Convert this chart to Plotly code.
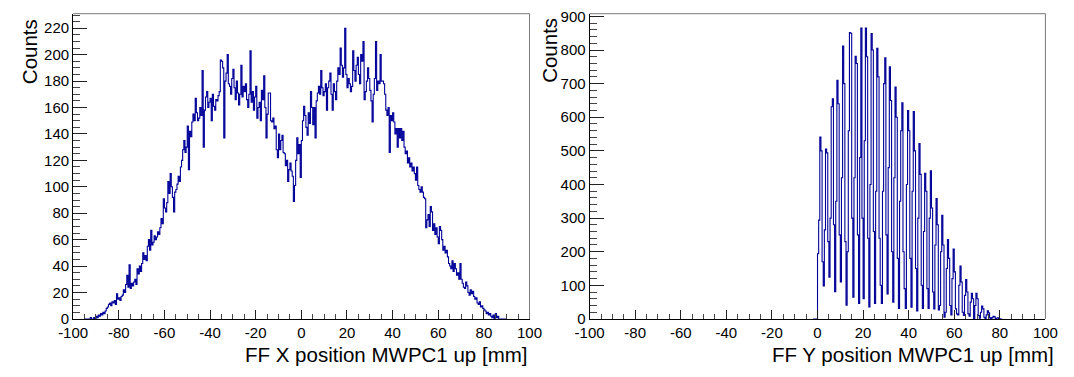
import numpy as np
import plotly.graph_objects as go

# ---------------- data ----------------
# Left histogram: FF X position, 0.5 mm bins starting at -95 mm
x_hist_start = -95.0
x_bin_width = 0.5
x_counts = [
    0, 0, 0, 0, 0, 1, 0, 0, 1, 0, 2, 1, 3, 2, 4, 3, 5, 4, 6, 8,
    9, 11, 12, 10, 13, 12, 14, 11, 19, 15, 16, 14, 17, 18, 22, 20, 26, 33, 24, 41,
    23, 27, 25, 28, 30, 26, 38, 34, 40, 36, 42, 50, 45, 48, 44, 55, 60, 52, 67, 56,
    58, 63, 60, 62, 66, 64, 69, 76, 72, 91, 84, 81, 88, 104, 95, 110, 100, 92, 81, 96,
    98, 102, 108, 104, 115, 120, 128, 135, 126, 130, 146, 113, 142, 138, 149, 155, 150, 167, 156, 150,
    152, 160, 154, 188, 130, 158, 168, 172, 160, 164, 167, 150, 170, 161, 158, 166, 165, 169, 172, 196,
    195, 190, 137, 180, 186, 200, 178, 176, 170, 182, 189, 175, 166, 180, 171, 162, 170, 192, 168, 176,
    172, 178, 166, 160, 170, 203, 164, 172, 158, 168, 176, 152, 160, 164, 150, 173, 166, 184, 160, 137,
    155, 171, 171, 150, 149, 152, 144, 146, 128, 122, 140, 128, 135, 139, 126, 125, 116, 120, 104, 113,
    118, 112, 108, 89, 101, 120, 137, 125, 132, 107, 135, 150, 161, 154, 145, 139, 156, 148, 172, 160,
    147, 160, 137, 165, 171, 176, 170, 188, 175, 169, 172, 178, 158, 175, 180, 186, 170, 158, 178, 172,
    166, 180, 190, 185, 205, 192, 183, 190, 220, 185, 175, 182, 178, 172, 176, 203, 188, 180, 192, 198,
    185, 178, 200, 195, 210, 166, 172, 180, 190, 182, 173, 165, 149, 170, 182, 210, 173, 180, 178, 200,
    180, 180, 178, 170, 158, 154, 160, 126, 154, 150, 156, 149, 140, 144, 130, 144, 137, 144, 135, 142,
    130, 125, 127, 118, 122, 115, 118, 112, 115, 110, 105, 115, 101, 98, 96, 100, 96, 92, 91, 69,
    75, 79, 70, 85, 81, 67, 72, 64, 69, 62, 57, 70, 67, 60, 52, 55, 50, 52, 47, 42,
    40, 38, 44, 36, 42, 38, 33, 35, 30, 42, 30, 27, 24, 23, 28, 25, 20, 18, 22, 19,
    21, 17, 15, 16, 12, 11, 13, 9, 10, 8, 7, 6, 4, 5, 3, 4, 2, 1, 3, 0,
    4, 1, 2, 0, 0, 0, 0, 0, 0, 0,
]

# Right histogram: FF Y position, 0.5 mm bins starting at -2 mm
y_hist_start = -2.0
y_bin_width = 0.5
y_counts = [
    0, 0, 0, 0,
    194, 294, 541, 500, 170,
    98, 265, 505, 494, 230,
    124, 300, 631, 655, 280,
    81, 350, 710, 640, 250,
    110, 420, 812, 700, 230,
    41, 200, 560, 852, 850, 300,
    65, 420, 781, 760, 250,
    46, 480, 865, 300,
    60, 530, 865, 780, 240,
    36, 400, 849, 800, 260,
    46, 380, 805, 720, 240,
    100, 46, 380, 700, 777, 250,
    74, 450, 750, 650, 200,
    50, 420, 690, 600, 180,
    31, 350, 560, 643, 200,
    90, 31, 400, 620, 560, 180,
    35, 380, 617, 500, 150,
    24, 300, 522, 430, 100,
    31, 260, 433, 380, 90,
    31, 300, 441, 330, 80,
    30, 220, 358, 280, 27,
    40, 200, 308, 220, 5,
    20, 150, 236, 180, 40,
    12, 120, 208, 140, 30,
    15, 12, 100, 157, 110, 20,
    10, 70, 117, 80, 15,
    8, 50, 76, 60, 0,
    40, 76, 60, 10, 2,
    20, 38, 30, 5, 0,
    12, 24, 18, 3, 0,
    4, 8, 6, 0, 2, 3, 1,
    0, 0,
]

x_tick_vals = [-100, -80, -60, -40, -20, 0, 20, 40, 60, 80, 100]
x_tick_text = ["-100", "-80", "-60", "-40", "-20", "0", "20", "40", "60", "80", "100"]
left_y_max = 231
right_y_max = 908
left_x_title = "FF X position MWPC1 up [mm]"
right_x_title = "FF Y position MWPC1 up [mm]"
y_title = "Counts"

# ---------------- figure ----------------
W, H = 1074, 377
FONT = "Liberation Sans, Arial, Helvetica, sans-serif"
LINE = "#000099"


def step_xy(start, width, counts):
    edges = start + width * np.arange(len(counts) + 1)
    ys = list(counts) + [counts[-1]]
    return edges, ys


fig = go.Figure()
ex, ey = step_xy(x_hist_start, x_bin_width, x_counts)
fig.add_trace(go.Scatter(x=ex, y=ey, mode="lines", line=dict(shape="hv", color=LINE, width=1.1),
                         xaxis="x", yaxis="y", hoverinfo="skip"))
rx, ry = step_xy(y_hist_start, y_bin_width, y_counts)
fig.add_trace(go.Scatter(x=rx, y=ry, mode="lines", line=dict(shape="hv", color=LINE, width=1.1),
                         xaxis="x2", yaxis="y2", hoverinfo="skip"))

# pixel geometry
L_x0, L_x1 = 59.7, 528.3
R_x0, R_x1 = 590.0, 1058.0
F_top, F_bot = 8.0, 325.0
ydom = [1 - F_bot / H, 1 - F_top / H]

xcommon = dict(range=[-100, 100], tickmode="array", tickvals=x_tick_vals, ticktext=x_tick_text,
               ticks="inside", ticklen=9, tickwidth=1, tickcolor="#222",
               minor=dict(tickmode="linear", tick0=0, dtick=5, ticks="inside", ticklen=5,
                          tickwidth=1, tickcolor="#444"),
               showgrid=False, zeroline=False, showline=True, linecolor="black", linewidth=1,
               tickfont=dict(family=FONT, size=15, color="black"), fixedrange=True)
ycommon = dict(ticks="inside", ticklen=14, tickwidth=1, tickcolor="#222", tickmode="linear", tick0=0,
               showgrid=False, zeroline=False, showline=True, linecolor="black", linewidth=1,
               tickfont=dict(family=FONT, size=15, color="black"), fixedrange=True)

fig.update_layout(
    width=W, height=H, margin=dict(l=0, r=0, t=0, b=0),
    paper_bgcolor="white", plot_bgcolor="white", showlegend=False,
    xaxis=dict(domain=[L_x0 / W, L_x1 / W], anchor="y", **xcommon),
    yaxis=dict(domain=ydom, anchor="x", range=[0, left_y_max], dtick=20,
               minor=dict(tickmode="linear", tick0=0, dtick=5, ticks="inside", ticklen=7,
                          tickwidth=1, tickcolor="#444"), **ycommon),
    xaxis2=dict(domain=[R_x0 / W, R_x1 / W], anchor="y2", **xcommon),
    yaxis2=dict(domain=ydom, anchor="x2", range=[0, right_y_max], dtick=100,
                minor=dict(tickmode="linear", tick0=0, dtick=20, ticks="inside", ticklen=7,
                           tickwidth=1, tickcolor="#444"), **ycommon),
)

# frame (top and right edges)
for xr, yr in (("x domain", "y domain"), ("x2 domain", "y2 domain")):
    fig.add_shape(type="line", xref=xr, yref=yr, x0=0, x1=1, y0=1, y1=1,
                  line=dict(color="#777", width=1))
    fig.add_shape(type="line", xref=xr, yref=yr, x0=1, x1=1, y0=0, y1=1,
                  line=dict(color="#777", width=1))

tfont = dict(family=FONT, size=20.5, color="black")
# axis titles
fig.add_annotation(text=left_x_title, xref="paper", yref="paper", x=L_x1 / W, y=1 - 362 / H,
                   xanchor="right", yanchor="middle", showarrow=False, font=tfont)
fig.add_annotation(text=right_x_title, xref="paper", yref="paper", x=1069 / W, y=1 - 362 / H,
                   xanchor="right", yanchor="middle", showarrow=False, font=tfont)
fig.add_annotation(text=y_title, xref="paper", yref="paper", x=14.5 / W, y=1 - 12 / H,
                   xanchor="center", yanchor="top", textangle=-90, showarrow=False, font=tfont)
fig.add_annotation(text=y_title, xref="paper", yref="paper", x=548 / W, y=1 - 10 / H,
                   xanchor="center", yanchor="top", textangle=-90, showarrow=False, font=tfont)

fig.write_html("out.html")
